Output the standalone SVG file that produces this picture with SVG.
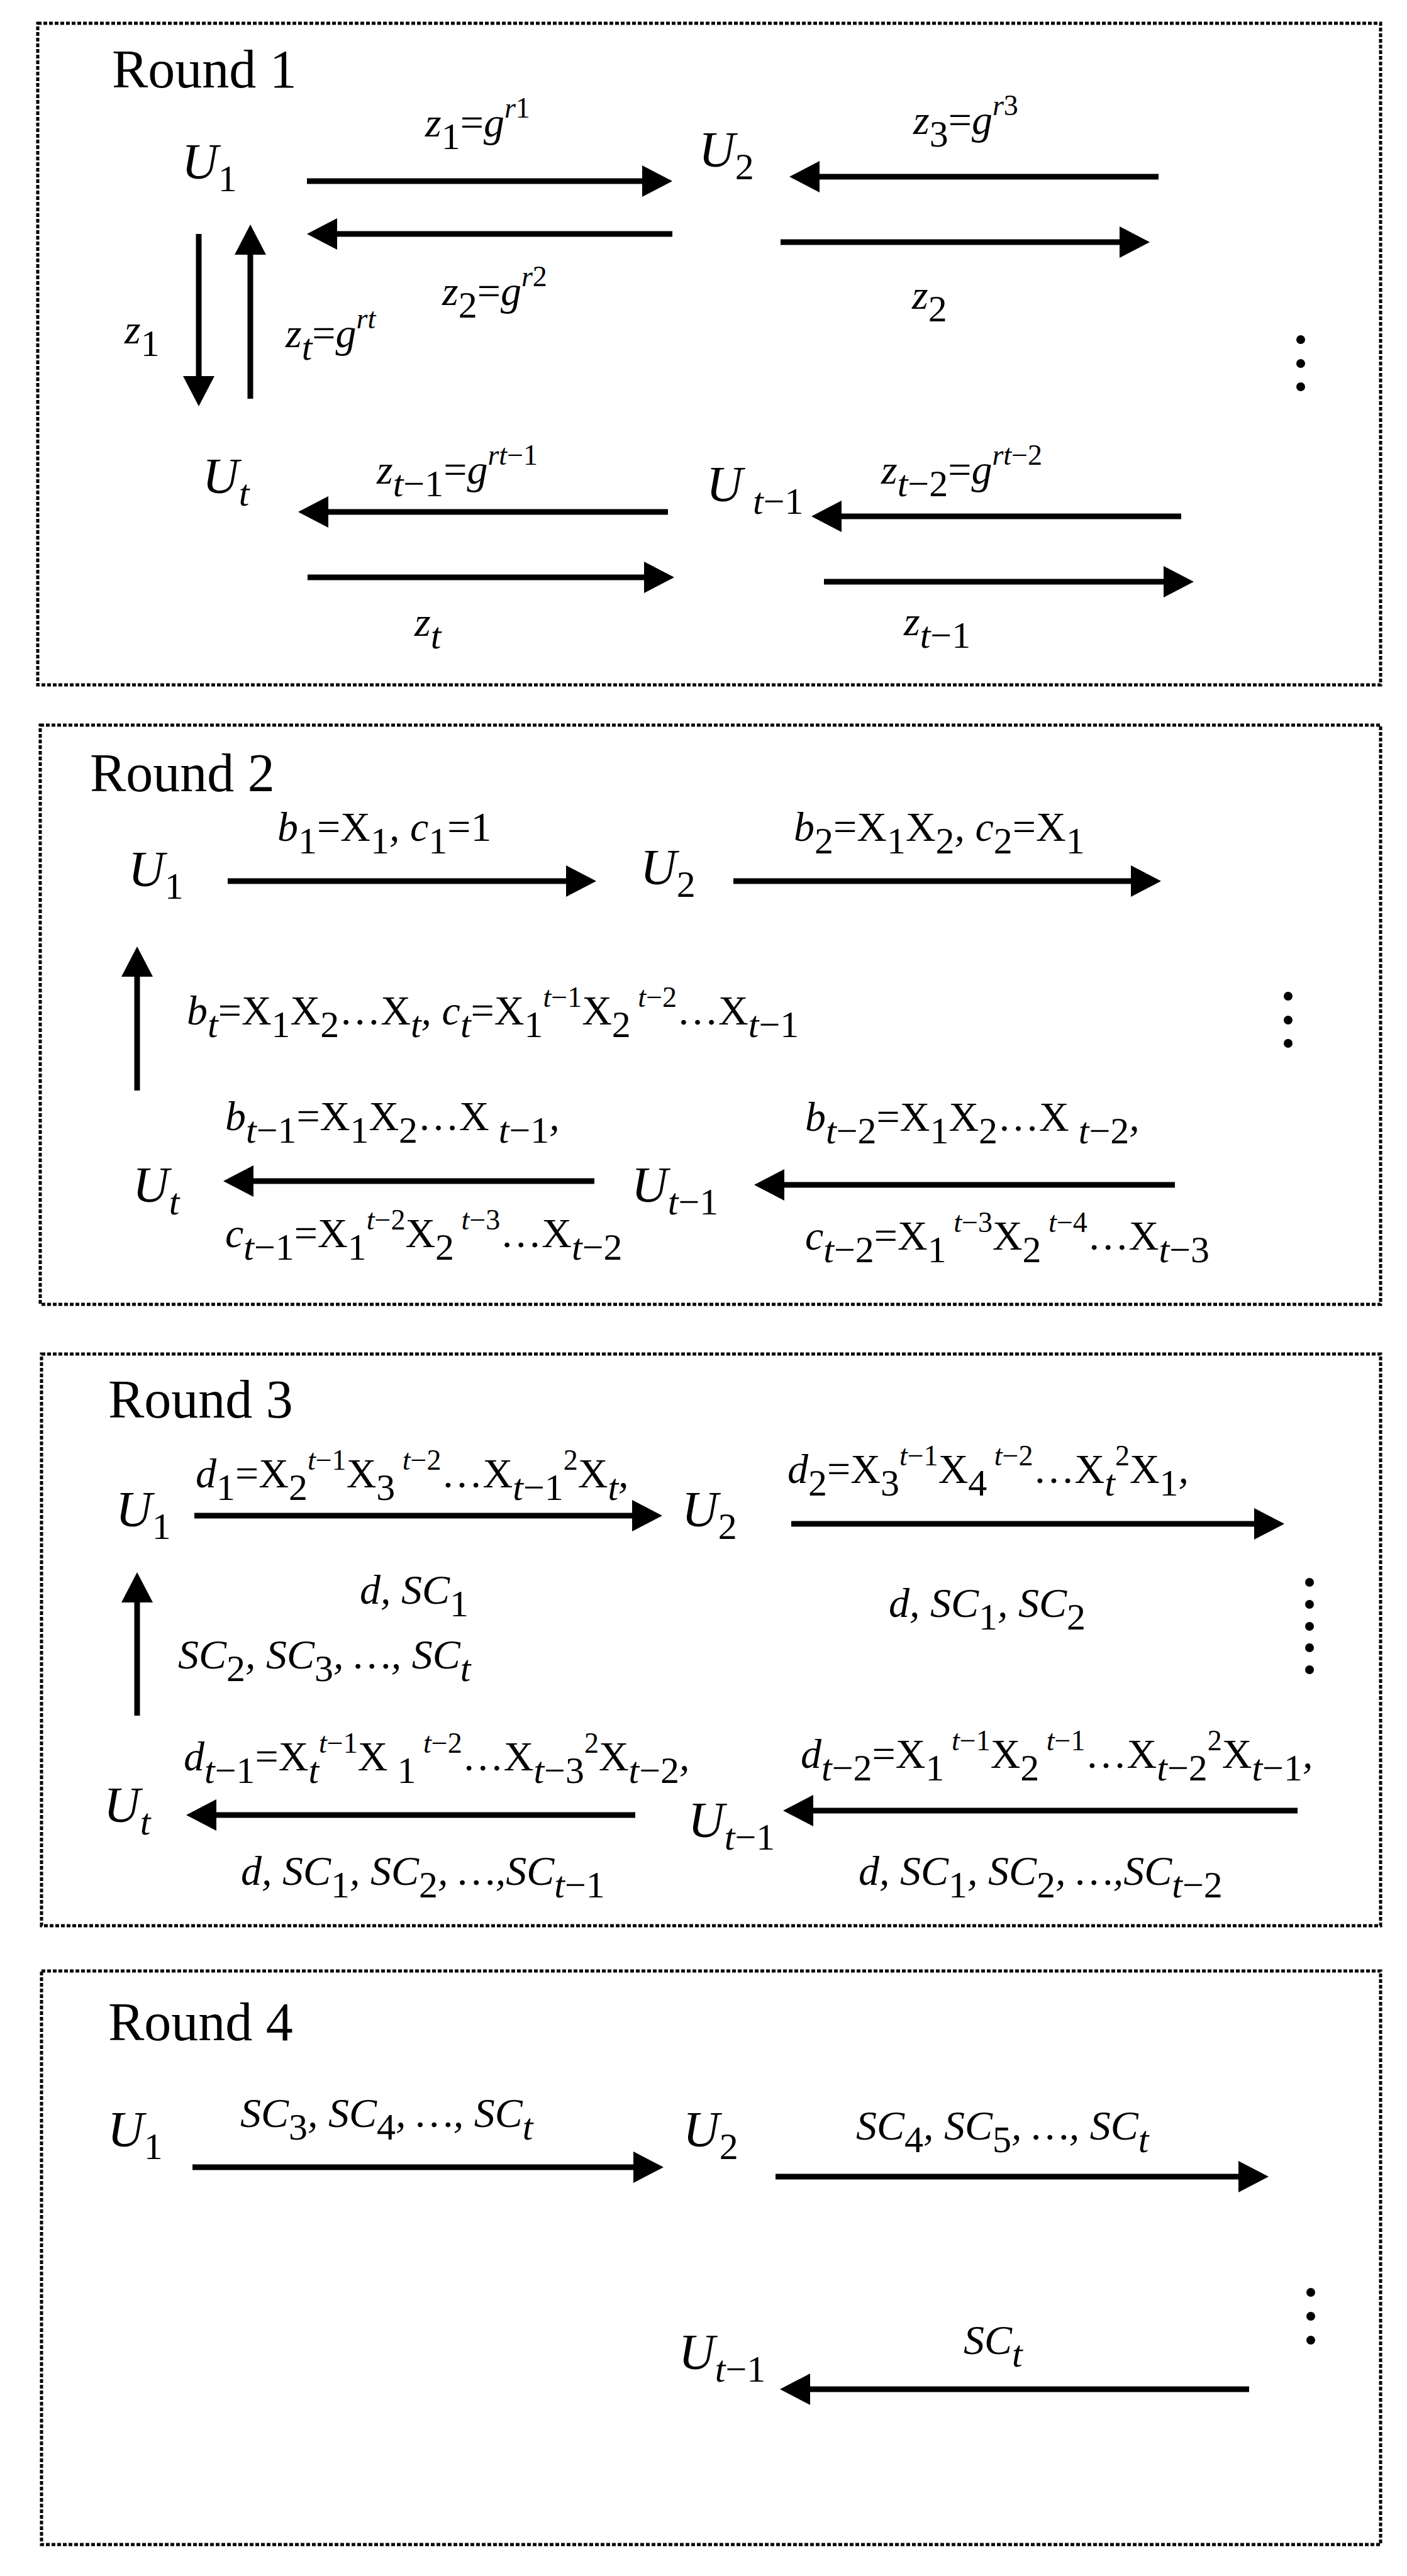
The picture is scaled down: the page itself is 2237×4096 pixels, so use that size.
<svg xmlns="http://www.w3.org/2000/svg" width="2237" height="4096" viewBox="0 0 2237 4096">
<defs>
<marker id="ah" markerUnits="userSpaceOnUse" markerWidth="48" markerHeight="50" refX="8" refY="25" orient="auto"><path d="M0,0 L48,25 L0,50 z" fill="#000"/></marker>
</defs>
<style>
text{font-family:"Liberation Serif","Times New Roman",serif;fill:#000}
.title{font-size:86px}
.lb{font-size:66px}
.u{font-size:80px;font-style:italic}
.us{font-size:60px;font-style:normal}
.sb{font-size:60px}
.sp{font-size:46px}
.i{font-style:italic}
.n{font-style:normal}
.box{fill:none;stroke:#000;stroke-width:5;stroke-dasharray:6 3}
.ar{stroke:#000;stroke-width:9;fill:none;marker-end:url(#ah)}
.dot{fill:#000}
</style>
<rect fill="#fff" width="2237" height="4096"/>

<g id="round1">
<rect class="box" x="60" y="37" width="2135" height="1052"/>
<text class="title" x="178" y="139">Round 1</text>
<circle class="dot" cx="2068" cy="540" r="7"/><circle class="dot" cx="2068" cy="578" r="7"/><circle class="dot" cx="2068" cy="615" r="7"/>
</g>
<g id="round2">
<rect class="box" x="64" y="1153" width="2131" height="921"/>
<text class="title" x="143" y="1258">Round 2</text>
<circle class="dot" cx="2048" cy="1584" r="7"/><circle class="dot" cx="2048" cy="1622" r="7"/><circle class="dot" cx="2048" cy="1659" r="7"/>
</g>
<g id="round3">
<rect class="box" x="66" y="2153" width="2129" height="909"/>
<text class="title" x="172" y="2254">Round 3</text>
<circle class="dot" cx="2082" cy="2516" r="7"/><circle class="dot" cx="2082" cy="2551" r="7"/><circle class="dot" cx="2082" cy="2586" r="7"/><circle class="dot" cx="2082" cy="2620" r="7"/><circle class="dot" cx="2082" cy="2655" r="7"/>
</g>
<g id="round4">
<rect class="box" x="66" y="3134" width="2129" height="912"/>
<text class="title" x="172" y="3244">Round 4</text>
<circle class="dot" cx="2084" cy="3645" r="7"/><circle class="dot" cx="2084" cy="3683" r="7"/><circle class="dot" cx="2084" cy="3721" r="7"/>
</g>

<g id="r1-U1"><text class="u" x="289" y="284">U<tspan class="us" dy="20">1</tspan></text></g>
<g id="r1-U2"><text class="u" x="1111" y="265">U<tspan class="us" dy="20">2</tspan></text></g>
<g id="r1-Ut"><text class="u" x="322" y="784">U<tspan class="us i" dy="20">t</tspan></text></g>
<g id="r1-Ut1"><text class="u" x="1123" y="797">U<tspan class="us" x="1197" dy="20"><tspan class="i">t</tspan>−1</tspan></text></g>

<g id="r2-U1"><text class="u" x="204" y="1409">U<tspan class="us" dy="20">1</tspan></text></g>
<g id="r2-U2"><text class="u" x="1018" y="1406">U<tspan class="us" dy="20">2</tspan></text></g>
<g id="r2-Ut"><text class="u" x="211" y="1911">U<tspan class="us i" dy="20">t</tspan></text></g>
<g id="r2-Ut1"><text class="u" x="1004" y="1911">U<tspan class="us" dy="20"><tspan class="i">t</tspan>−1</tspan></text></g>

<g id="r3-U1"><text class="u" x="184" y="2427">U<tspan class="us" dy="20">1</tspan></text></g>
<g id="r3-U2"><text class="u" x="1084" y="2427">U<tspan class="us" dy="20">2</tspan></text></g>
<g id="r3-Ut"><text class="u" x="165" y="2897">U<tspan class="us i" dy="20">t</tspan></text></g>
<g id="r3-Ut1"><text class="u" x="1094" y="2921">U<tspan class="us" dy="20"><tspan class="i">t</tspan>−1</tspan></text></g>

<g id="r4-U1"><text class="u" x="171" y="3413">U<tspan class="us" dy="20">1</tspan></text></g>
<g id="r4-U2"><text class="u" x="1086" y="3413">U<tspan class="us" dy="20">2</tspan></text></g>
<g id="r4-Ut1"><text class="u" x="1079" y="3767">U<tspan class="us" dy="20"><tspan class="i">t</tspan>−1</tspan></text></g>

<g id="connectors">
<path class="ar" d="M488,288 H1029"/>
<path class="ar" d="M1069,372 H528"/>
<path class="ar" d="M1842,281 H1295"/>
<path class="ar" d="M1241,385 H1788"/>
<path class="ar" d="M316,372 V606"/>
<path class="ar" d="M398,634 V397"/>
<path class="ar" d="M1062,814 H514"/>
<path class="ar" d="M1878,821 H1330"/>
<path class="ar" d="M489,918 H1032"/>
<path class="ar" d="M1310,925 H1858"/>

<path class="ar" d="M362,1401 H908"/>
<path class="ar" d="M1166,1401 H1806"/>
<path class="ar" d="M218,1734 V1545"/>
<path class="ar" d="M945,1878 H395"/>
<path class="ar" d="M1868,1884 H1239"/>

<path class="ar" d="M309,2410 H1013"/>
<path class="ar" d="M1258,2423 H2002"/>
<path class="ar" d="M218,2728 V2540"/>
<path class="ar" d="M1010,2886 H336"/>
<path class="ar" d="M2063,2879 H1285"/>

<path class="ar" d="M306,3446 H1015"/>
<path class="ar" d="M1233,3461 H1977"/>
<path class="ar" d="M1986,3799 H1280"/>
</g>

<g id="labels">
<text class="lb" x="676" y="217"><tspan class="i">z</tspan><tspan class="sb" dy="20">1</tspan><tspan dy="-20">=</tspan><tspan class="i">g</tspan><tspan class="sp" dy="-30"><tspan class="i">r</tspan>1</tspan></text>
<text class="lb" x="1452" y="213"><tspan class="i">z</tspan><tspan class="sb" dy="20">3</tspan><tspan dy="-20">=</tspan><tspan class="i">g</tspan><tspan class="sp" dy="-30"><tspan class="i">r</tspan>3</tspan></text>
<text class="lb" x="703" y="485"><tspan class="i">z</tspan><tspan class="sb" dy="20">2</tspan><tspan dy="-20">=</tspan><tspan class="i">g</tspan><tspan class="sp" dy="-30"><tspan class="i">r</tspan>2</tspan></text>
<text class="lb" x="1450" y="491"><tspan class="i">z</tspan><tspan class="sb" dy="20">2</tspan></text>
<text class="lb" x="198" y="546"><tspan class="i">z</tspan><tspan class="sb" dy="20">1</tspan></text>
<text class="lb" x="454" y="552"><tspan class="i">z</tspan><tspan class="sb i" dy="20">t</tspan><tspan dy="-20">=</tspan><tspan class="i">g</tspan><tspan class="sp i" dy="-30">rt</tspan></text>
<text class="lb" x="599" y="769"><tspan class="i">z</tspan><tspan class="sb" dy="20"><tspan class="i">t</tspan>−1</tspan><tspan dy="-20">=</tspan><tspan class="i">g</tspan><tspan class="sp" dy="-30"><tspan class="i">rt</tspan>−1</tspan></text>
<text class="lb" x="1401" y="769"><tspan class="i">z</tspan><tspan class="sb" dy="20"><tspan class="i">t</tspan>−2</tspan><tspan dy="-20">=</tspan><tspan class="i">g</tspan><tspan class="sp" dy="-30"><tspan class="i">rt</tspan>−2</tspan></text>
<text class="lb" x="659" y="1011"><tspan class="i">z</tspan><tspan class="sb i" dy="20">t</tspan></text>
<text class="lb" x="1437" y="1010"><tspan class="i">z</tspan><tspan class="sb" dy="20"><tspan class="i">t</tspan>−1</tspan></text>

<text class="lb" x="441" y="1337"><tspan class="i">b</tspan><tspan class="sb" dy="20">1</tspan><tspan dy="-20">=X</tspan><tspan class="sb" dy="20">1</tspan><tspan class="i" dy="-20">, c</tspan><tspan class="sb" dy="20">1</tspan><tspan dy="-20">=1</tspan></text>
<text class="lb" x="1262" y="1337"><tspan class="i">b</tspan><tspan class="sb" dy="20">2</tspan><tspan dy="-20">=X</tspan><tspan class="sb" dy="20">1</tspan><tspan dy="-20">X</tspan><tspan class="sb" dy="20">2</tspan><tspan class="i" dy="-20">, c</tspan><tspan class="sb" dy="20">2</tspan><tspan dy="-20">=X</tspan><tspan class="sb" dy="20">1</tspan></text>
<text class="lb" x="297" y="1629"><tspan class="i">b</tspan><tspan class="sb i" dy="20">t</tspan><tspan dy="-20">=X</tspan><tspan class="sb" dy="20">1</tspan><tspan dy="-20">X</tspan><tspan class="sb" dy="20">2</tspan><tspan dy="-20">…X</tspan><tspan class="sb i" dy="20">t</tspan><tspan class="i" dy="-20">, c</tspan><tspan class="sb i" dy="20">t</tspan><tspan dy="-20">=X</tspan><tspan class="sb" dy="20">1</tspan><tspan class="sp" dy="-48"><tspan class="i">t</tspan>−1</tspan><tspan dy="28">X</tspan><tspan class="sb" dy="20">2</tspan><tspan class="sp" dy="-48"> <tspan class="i">t</tspan>−2</tspan><tspan dy="28">…X</tspan><tspan class="sb" dy="20"><tspan class="i">t</tspan>−1</tspan></text>
<text class="lb" x="358" y="1797"><tspan class="i">b</tspan><tspan class="sb" dy="20"><tspan class="i">t</tspan>−1</tspan><tspan dy="-20">=X</tspan><tspan class="sb" dy="20">1</tspan><tspan dy="-20">X</tspan><tspan class="sb" dy="20">2</tspan><tspan dy="-20">…X</tspan><tspan class="sb" dy="20"> <tspan class="i">t</tspan>−1</tspan><tspan class="i" dy="-20">,</tspan></text>
<text class="lb" x="1280" y="1798"><tspan class="i">b</tspan><tspan class="sb" dy="20"><tspan class="i">t</tspan>−2</tspan><tspan dy="-20">=X</tspan><tspan class="sb" dy="20">1</tspan><tspan dy="-20">X</tspan><tspan class="sb" dy="20">2</tspan><tspan dy="-20">…X</tspan><tspan class="sb" dy="20"> <tspan class="i">t</tspan>−2</tspan><tspan class="i" dy="-20">,</tspan></text>
<text class="lb" x="358" y="1983"><tspan class="i">c</tspan><tspan class="sb" dy="20"><tspan class="i">t</tspan>−1</tspan><tspan dy="-20">=X</tspan><tspan class="sb" dy="20">1</tspan><tspan class="sp" dy="-48"><tspan class="i">t</tspan>−2</tspan><tspan dy="28">X</tspan><tspan class="sb" dy="20">2</tspan><tspan class="sp" dy="-48"> <tspan class="i">t</tspan>−3</tspan><tspan dy="28">…X</tspan><tspan class="sb" dy="20"><tspan class="i">t</tspan>−2</tspan></text>
<text class="lb" x="1280" y="1987"><tspan class="i">c</tspan><tspan class="sb" dy="20"><tspan class="i">t</tspan>−2</tspan><tspan dy="-20">=X</tspan><tspan class="sb" dy="20">1</tspan><tspan class="sp" dy="-48"> <tspan class="i">t</tspan>−3</tspan><tspan dy="28">X</tspan><tspan class="sb" dy="20">2</tspan><tspan class="sp" dy="-48"> <tspan class="i">t</tspan>−4</tspan><tspan dy="28">…X</tspan><tspan class="sb" dy="20"><tspan class="i">t</tspan>−3</tspan></text>

<text class="lb" x="311" y="2365"><tspan class="i">d</tspan><tspan class="sb" dy="20">1</tspan><tspan dy="-20">=X</tspan><tspan class="sb" dy="20">2</tspan><tspan class="sp" dy="-48"><tspan class="i">t</tspan>−1</tspan><tspan dy="28">X</tspan><tspan class="sb" dy="20">3</tspan><tspan class="sp" dy="-48"> <tspan class="i">t</tspan>−2</tspan><tspan dy="28">…X</tspan><tspan class="sb" dy="20"><tspan class="i">t</tspan>−1</tspan><tspan class="sp" dy="-48">2</tspan><tspan dy="28">X</tspan><tspan class="sb i" dy="20">t</tspan><tspan class="i" dy="-20">,</tspan></text>
<text class="lb" x="1252" y="2358"><tspan class="i">d</tspan><tspan class="sb" dy="20">2</tspan><tspan dy="-20">=X</tspan><tspan class="sb" dy="20">3</tspan><tspan class="sp" dy="-48"><tspan class="i">t</tspan>−1</tspan><tspan dy="28">X</tspan><tspan class="sb" dy="20">4</tspan><tspan class="sp" dy="-48"> <tspan class="i">t</tspan>−2</tspan><tspan dy="28">…X</tspan><tspan class="sb i" dy="20">t</tspan><tspan class="sp" dy="-48">2</tspan><tspan dy="28">X</tspan><tspan class="sb" dy="20">1</tspan><tspan class="i" dy="-20">,</tspan></text>
<text class="lb i" x="572" y="2550">d, SC<tspan class="sb n" dy="20">1</tspan></text>
<text class="lb i" x="1413" y="2571">d, SC<tspan class="sb n" dy="20">1</tspan><tspan dy="-20">, SC</tspan><tspan class="sb n" dy="20">2</tspan></text>
<text class="lb i" x="283" y="2653">SC<tspan class="sb n" dy="20">2</tspan><tspan dy="-20">, SC</tspan><tspan class="sb n" dy="20">3</tspan><tspan dy="-20">, …, SC</tspan><tspan class="sb" dy="20">t</tspan></text>
<text class="lb" x="292" y="2815"><tspan class="i">d</tspan><tspan class="sb" dy="20"><tspan class="i">t</tspan>−1</tspan><tspan dy="-20">=X</tspan><tspan class="sb i" dy="20">t</tspan><tspan class="sp" dy="-48"><tspan class="i">t</tspan>−1</tspan><tspan dy="28">X</tspan><tspan class="sb" dy="20"> 1</tspan><tspan class="sp" dy="-48"> <tspan class="i">t</tspan>−2</tspan><tspan dy="28">…X</tspan><tspan class="sb" dy="20"><tspan class="i">t</tspan>−3</tspan><tspan class="sp" dy="-48">2</tspan><tspan dy="28">X</tspan><tspan class="sb" dy="20"><tspan class="i">t</tspan>−2</tspan><tspan class="i" dy="-20">,</tspan></text>
<text class="lb" x="1273" y="2811"><tspan class="i">d</tspan><tspan class="sb" dy="20"><tspan class="i">t</tspan>−2</tspan><tspan dy="-20">=X</tspan><tspan class="sb" dy="20">1</tspan><tspan class="sp" dy="-48"> <tspan class="i">t</tspan>−1</tspan><tspan dy="28">X</tspan><tspan class="sb" dy="20">2</tspan><tspan class="sp" dy="-48"> <tspan class="i">t</tspan>−1</tspan><tspan dy="28">…X</tspan><tspan class="sb" dy="20"><tspan class="i">t</tspan>−2</tspan><tspan class="sp" dy="-48">2</tspan><tspan dy="28">X</tspan><tspan class="sb" dy="20"><tspan class="i">t</tspan>−1</tspan><tspan class="i" dy="-20">,</tspan></text>
<text class="lb i" x="383" y="2997">d, SC<tspan class="sb n" dy="20">1</tspan><tspan dy="-20">, SC</tspan><tspan class="sb n" dy="20">2</tspan><tspan dy="-20">, …,SC</tspan><tspan class="sb" dy="20">t<tspan class="n">−1</tspan></tspan></text>
<text class="lb i" x="1365" y="2997">d, SC<tspan class="sb n" dy="20">1</tspan><tspan dy="-20">, SC</tspan><tspan class="sb n" dy="20">2</tspan><tspan dy="-20">, …,SC</tspan><tspan class="sb" dy="20">t<tspan class="n">−2</tspan></tspan></text>

<text class="lb i" x="382" y="3382">SC<tspan class="sb n" dy="20">3</tspan><tspan dy="-20">, SC</tspan><tspan class="sb n" dy="20">4</tspan><tspan dy="-20">, …, SC</tspan><tspan class="sb" dy="20">t</tspan></text>
<text class="lb i" x="1361" y="3402">SC<tspan class="sb n" dy="20">4</tspan><tspan dy="-20">, SC</tspan><tspan class="sb n" dy="20">5</tspan><tspan dy="-20">, …, SC</tspan><tspan class="sb" dy="20">t</tspan></text>
<text class="lb i" x="1532" y="3743">SC<tspan class="sb" dy="20">t</tspan></text>
</g>
</svg>
